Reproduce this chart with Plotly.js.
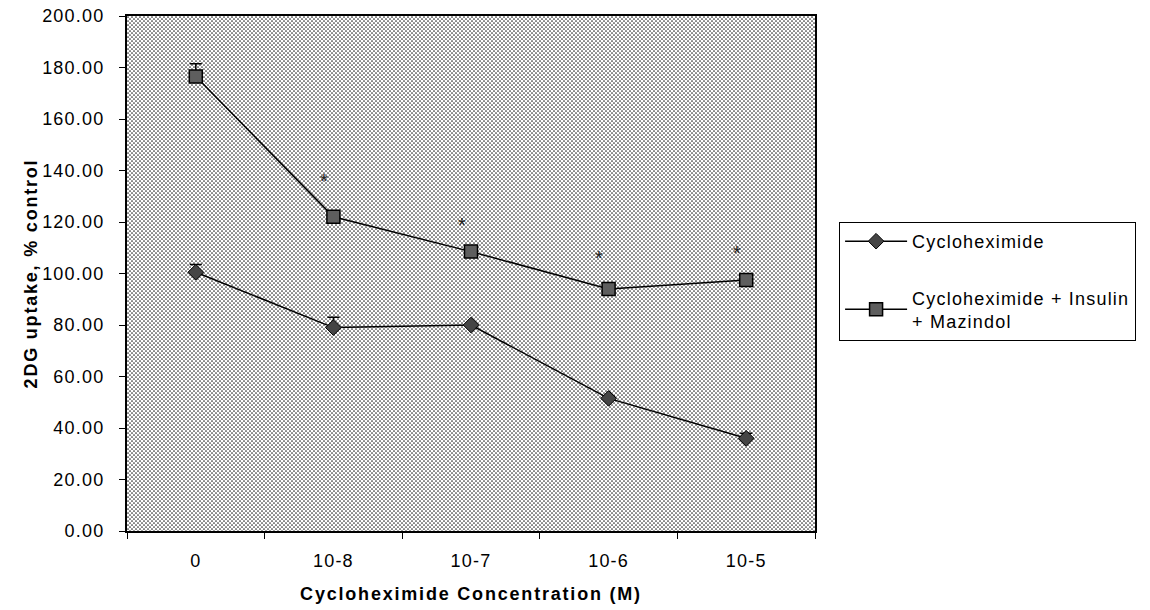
<!DOCTYPE html>
<html>
<head>
<meta charset="utf-8">
<script src="https://cdn.plot.ly/plotly-3.0.1.min.js"></script>
<style>
html,body{margin:0;padding:0;background:#fff;}
#chart{width:1150px;height:610px;}
text{letter-spacing:1.2px;}
.xtitle, .ytitle{letter-spacing:1.8px;}
</style>
</head>
<body>
<div id="chart"></div>
<script>
// ---- data ----
const categories = ["0", "10-8", "10-7", "10-6", "10-5"];
const cycloValues = [100.5, 79, 80, 51.5, 36];
const cycloErrors = [3, 4, 0.5, 1, 2];
const comboValues = [176.5, 122, 108.5, 94, 97.5];
const comboErrors = [5, 1, 1, 1, 1];
const noErrors = [0, 0, 0, 0, 0];
const starCategories = ["10-8", "10-7", "10-6", "10-5"];
const starValues = [136, 119, 106, 108];
const seriesNames = ["Cycloheximide", "Cycloheximide + Insulin<br>+ Mazindol"];
const yTickValues = [0, 20, 40, 60, 80, 100, 120, 140, 160, 180, 200];

// dotted halftone background as an svg pattern image
const patternSvg =
  '<svg xmlns="http://www.w3.org/2000/svg" width="688" height="515">' +
  '<defs><pattern id="p" width="4" height="4" patternUnits="userSpaceOnUse">' +
  '<rect width="4" height="4" fill="#ffffff"/>' +
  '<circle cx="1" cy="1" r="0.85" fill="#2a2a2a"/>' +
  '<circle cx="3" cy="3" r="0.85" fill="#2a2a2a"/>' +
  '</pattern></defs><rect width="688" height="515" fill="url(#p)"/></svg>';
const patternUri = "data:image/svg+xml;base64," + btoa(patternSvg);

const font = "Liberation Sans, Arial, sans-serif";

const traces = [
  {
    x: categories, y: cycloValues, name: seriesNames[0], type: "scatter", mode: "lines+markers",
    legendgroup: "a",
    line: {color: "#000", width: 1.5},
    marker: {symbol: "diamond", size: 12, color: "#454545", line: {color: "#000", width: 1}},
    error_y: {type: "data", symmetric: false, array: cycloErrors, arrayminus: noErrors,
              visible: true, color: "#000", thickness: 1.5, width: 6}
  },
  {
    x: categories, y: comboValues, name: seriesNames[1], type: "scatter", mode: "lines+markers",
    legendgroup: "b",
    line: {color: "#000", width: 1.5},
    marker: {symbol: "square", size: 13, color: "#5e5e5e", line: {color: "#000", width: 1.5}},
    error_y: {type: "data", symmetric: false, array: comboErrors, arrayminus: noErrors,
              visible: true, color: "#000", thickness: 1.5, width: 6}
  }
];

const annotations = starCategories.map((c, i) => ({
  x: c, y: starValues[i], xref: "x", yref: "y", text: "*", showarrow: false,
  xshift: -9, font: {family: font, size: 20, color: "#222"}
}));

const layout = {
  width: 1150, height: 610,
  margin: {l: 127, r: 335, t: 16, b: 79, pad: 0},
  paper_bgcolor: "#ffffff",
  plot_bgcolor: "rgba(0,0,0,0)",
  showlegend: true,
  images: [{
    source: patternUri, xref: "paper", yref: "paper", x: 0, y: 1,
    sizex: 1, sizey: 1, sizing: "stretch", xanchor: "left", yanchor: "top", layer: "below"
  }],
  xaxis: {
    type: "category", categoryorder: "array", categoryarray: categories,
    range: [-0.5, 4.5], tickson: "boundaries",
    ticks: "outside", ticklen: 6, tickwidth: 1, tickcolor: "#000",
    ticklabelstandoff: 12,
    showline: true, linecolor: "#000", linewidth: 2, mirror: true,
    showgrid: false, zeroline: false,
    tickfont: {family: font, size: 18, color: "#000"},
    title: {text: "Cycloheximide Concentration (M)", standoff: 18,
            font: {family: font, size: 18, color: "#000", weight: "bold"}}
  },
  yaxis: {
    range: [0, 200], tickvals: yTickValues, tickformat: ".2f",
    ticks: "outside", ticklen: 6, tickwidth: 1, tickcolor: "#000",
    ticklabelstandoff: 11,
    showline: true, linecolor: "#000", linewidth: 2, mirror: true,
    showgrid: false, zeroline: false,
    tickfont: {family: font, size: 18, color: "#000"},
    title: {text: "2DG uptake, % control", standoff: 0,
            font: {family: font, size: 18, color: "#000", weight: "bold"}}
  },
  legend: {
    x: 1.035, y: 0.6, xanchor: "left", yanchor: "top",
    bgcolor: "#ffffff", bordercolor: "#000", borderwidth: 1,
    font: {family: font, size: 18, color: "#000"},
    traceorder: "grouped", tracegroupgap: 30, itemwidth: 62
  },
  annotations: annotations
};

Plotly.newPlot("chart", traces, layout, {displayModeBar: false, staticPlot: true});
</script>
</body>
</html>
